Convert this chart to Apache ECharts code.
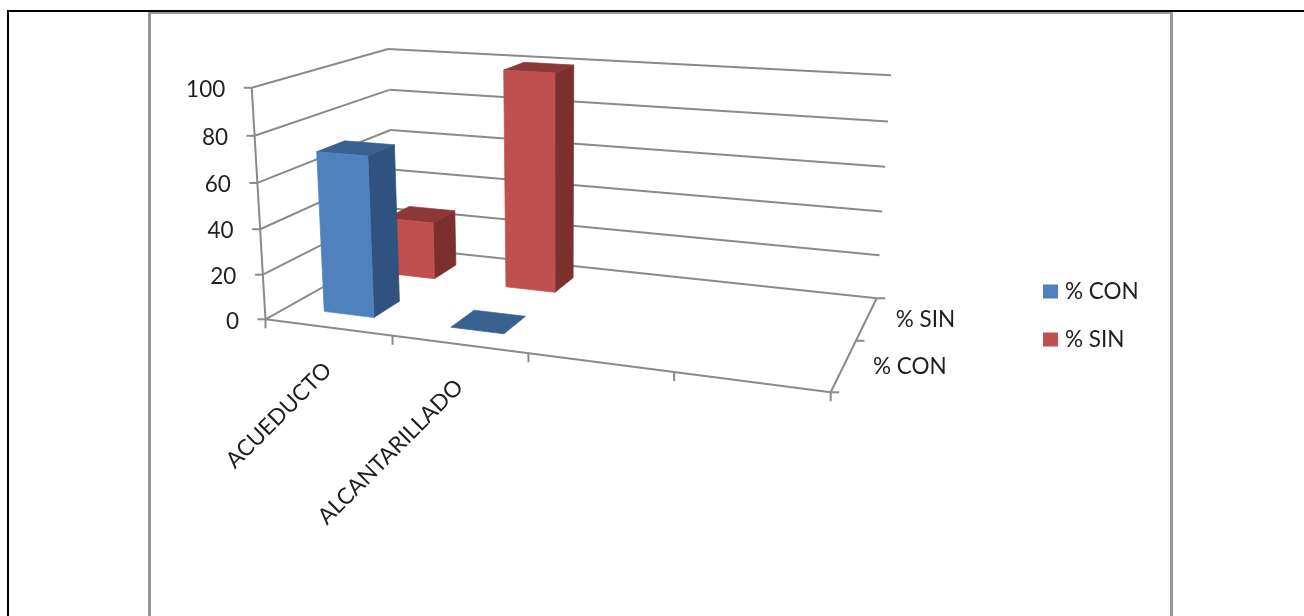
<!DOCTYPE html>
<html>
<head>
<meta charset="utf-8">
<style>html,body{margin:0;padding:0;background:#fff}#chart{width:1304px;height:616px}</style>
<script src="https://cdn.jsdelivr.net/npm/echarts@6/dist/echarts.min.js"></script>
</head>
<body>
<div id="chart"></div>
<script>
// Categories and values of the chart
const categories = ['ACUEDUCTO', 'ALCANTARILLADO', '', ''];
const depthNames = ['% CON', '% SIN'];
const conValues = [71, 0];
const sinValues = [27, 100];
const valueTicks = [0, 20, 40, 60, 80, 100];

const FONT = 'Lato, "Open Sans", sans-serif';
const TEXT = '#1f1f1f';
const LINE = '#8a8a8a';

// Floor of the 3D box on screen: front-left, front-right, back-right, back-left
const floorCorners = [[265.5, 319.3], [830.7, 392.3], [876.7, 298.3], [394.5, 247]];
// Homogeneous screen vector of the vertical axis (full height of the value axis)
const verticalVector = [-25.1, -235.5, -0.045];

// Perspective map of the floor, from the unit square
function floorMap(q) {
  const [[x0, y0], [x1, y1], [x2, y2], [x3, y3]] = q;
  const dx1 = x1 - x2, dx2 = x3 - x2, sx = x0 - x1 + x2 - x3;
  const dy1 = y1 - y2, dy2 = y3 - y2, sy = y0 - y1 + y2 - y3;
  const den = dx1 * dy2 - dx2 * dy1;
  const g = (sx * dy2 - dx2 * sy) / den;
  const h = (dx1 * sy - sx * dy1) / den;
  const a = x1 - x0 + g * x1, b = x3 - x0 + h * x3;
  const d = y1 - y0 + g * y1, e = y3 - y0 + h * y3;
  return (u, v) => [a * u + b * v + x0, d * u + e * v + y0, g * u + h * v + 1];
}
const floorAt = floorMap(floorCorners);

// Screen position for a category coordinate, a depth coordinate and a value fraction (0..1)
function project(cat, depth, frac) {
  const u = cat / categories.length, v = depth / depthNames.length;
  const [X, Y, W] = floorAt(u, v);
  const w = W + frac * verticalVector[2];
  const x = (X + frac * verticalVector[0]) / w;
  const y = (Y + frac * verticalVector[1]) / w;
  return [x, y - frac * v * (1.1 + 1.9 * u)];
}

// Fraction of the value axis height, read through the axis scale
function valueFrac(api, value) {
  const y0 = api.coord([0, 0])[1], y100 = api.coord([0, 100])[1];
  return (y0 - api.coord([0, value])[1]) / (y0 - y100);
}

function poly(points, fill) {
  return { type: 'polygon', shape: { points }, style: { fill, stroke: fill, lineWidth: 0.7 } };
}
function seg(a, b) {
  return { type: 'line', shape: { x1: a[0], y1: a[1], x2: b[0], y2: b[1] },
           style: { stroke: LINE, lineWidth: 2, fill: null } };
}
function label(text, x, y, align, rotation) {
  return { type: 'text', x, y, rotation: rotation || 0,
           style: { text, x: 0, y: 0, align, verticalAlign: 'middle', font: '22.5px ' + FONT, fill: TEXT } };
}

// Bar prism for one series; each series keeps its own depth slot
function barRenderer(depthIndex, faces) {
  return function (params, api) {
    const cat = api.value(0), value = api.value(1);
    const frac = valueFrac(api, value);
    const c0 = cat + 0.3, c1 = cat + 0.7, d0 = depthIndex + 0.3, d1 = depthIndex + 0.7;
    const top = [project(c0, d0, frac), project(c1, d0, frac), project(c1, d1, frac), project(c0, d1, frac)];
    const children = [];
    if (value > 0) {
      children.push(poly([project(c1, d0, 0), project(c1, d1, 0), top[2], top[1]], faces.side));
      children.push(poly(top, faces.top));
      children.push(poly([project(c0, d0, 0), project(c1, d0, 0), top[1], top[0]], faces.front));
    } else {
      children.push(poly(top, faces.top));
    }
    return { type: 'group', children };
  };
}

// Walls, floor, ticks and axis labels of the box
function renderBox(params, api) {
  const nc = categories.length, nd = depthNames.length, kids = [];
  valueTicks.forEach(t => {
    const f = valueFrac(api, t);
    const fl = project(0, 0, f), bl = project(0, nd, f), br = project(nc, nd, f);
    kids.push(seg(fl, bl), seg(bl, br), seg([fl[0] - 8, fl[1]], fl));
    kids.push(label(String(t), fl[0] - 26.5, fl[1] + 2, 'right'));
  });
  kids.push(seg(project(0, 0, 0), project(0, 0, 1)));
  kids.push(seg(project(0, 0, 0), project(nc, 0, 0)));
  kids.push(seg(project(nc, 0, 0), project(nc, nd, 0)));
  for (let c = 0; c <= nc; c++) {
    const p = project(c, 0, 0);
    kids.push(seg(p, [p[0], p[1] + 9]));
    if (c < nc && categories[c]) {
      const m = project(c + 0.5, 0, 0);
      kids.push(label(categories[c], m[0], m[1] + 39, 'right', Math.PI / 4));
    }
  }
  for (let d = 0; d <= nd; d++) {
    const p = project(nc, d, 0);
    kids.push(seg(p, [p[0] + 8.5, p[1]]));
    if (d < nd) {
      const m = project(nc, d + 0.5, 0);
      kids.push(label(depthNames[d], m[0] + 29, m[1] + 1.5, 'left'));
    }
  }
  return { type: 'group', children: kids };
}

const blueFaces = { front: '#4F81BD', side: '#2F5280', top: '#38618F' };
const redFaces = { front: '#C0504D', side: '#7B302E', top: '#8C3836' };

const chart = echarts.init(document.getElementById('chart'), null, { renderer: 'canvas' });
chart.setOption({
  animation: false,
  backgroundColor: '#ffffff',
  grid: { left: 250, right: 470, top: 88, bottom: 296 },
  xAxis: { type: 'category', data: categories, show: false },
  yAxis: { type: 'value', min: 0, max: 100, interval: 20, show: false },
  legend: {
    orient: 'vertical', left: 1043, top: 280, padding: 0,
    itemWidth: 15, itemHeight: 14, itemGap: 25,
    data: [
      { name: depthNames[0], icon: 'rect', itemStyle: { color: blueFaces.front } },
      { name: depthNames[1], icon: 'rect', itemStyle: { color: redFaces.front } }
    ],
    textStyle: { fontFamily: FONT, fontSize: 22.5, color: TEXT, padding: [0, 0, 0, 2] }
  },
  graphic: [
    { type: 'rect', shape: { x: 149.5, y: 12.5, width: 1022, height: 610 },
      style: { fill: null, stroke: '#969696', lineWidth: 3 }, silent: true, z: -1 },
    { type: 'rect', shape: { x: 7, y: 10, width: 1297, height: 2 }, style: { fill: '#000' }, silent: true },
    { type: 'rect', shape: { x: 7, y: 10, width: 2, height: 606 }, style: { fill: '#000' }, silent: true }
  ],
  series: [
    { type: 'custom', name: 'box', data: [[0, 0]], renderItem: renderBox, silent: true, clip: false, z: 1 },
    { type: 'custom', name: depthNames[1], data: sinValues.map((v, i) => [i, v]),
      renderItem: barRenderer(1, redFaces), itemStyle: { color: redFaces.front }, silent: true, clip: false, z: 2 },
    { type: 'custom', name: depthNames[0], data: conValues.map((v, i) => [i, v]),
      renderItem: barRenderer(0, blueFaces), itemStyle: { color: blueFaces.front }, silent: true, clip: false, z: 3 }
  ]
});
</script>
</body>
</html>
